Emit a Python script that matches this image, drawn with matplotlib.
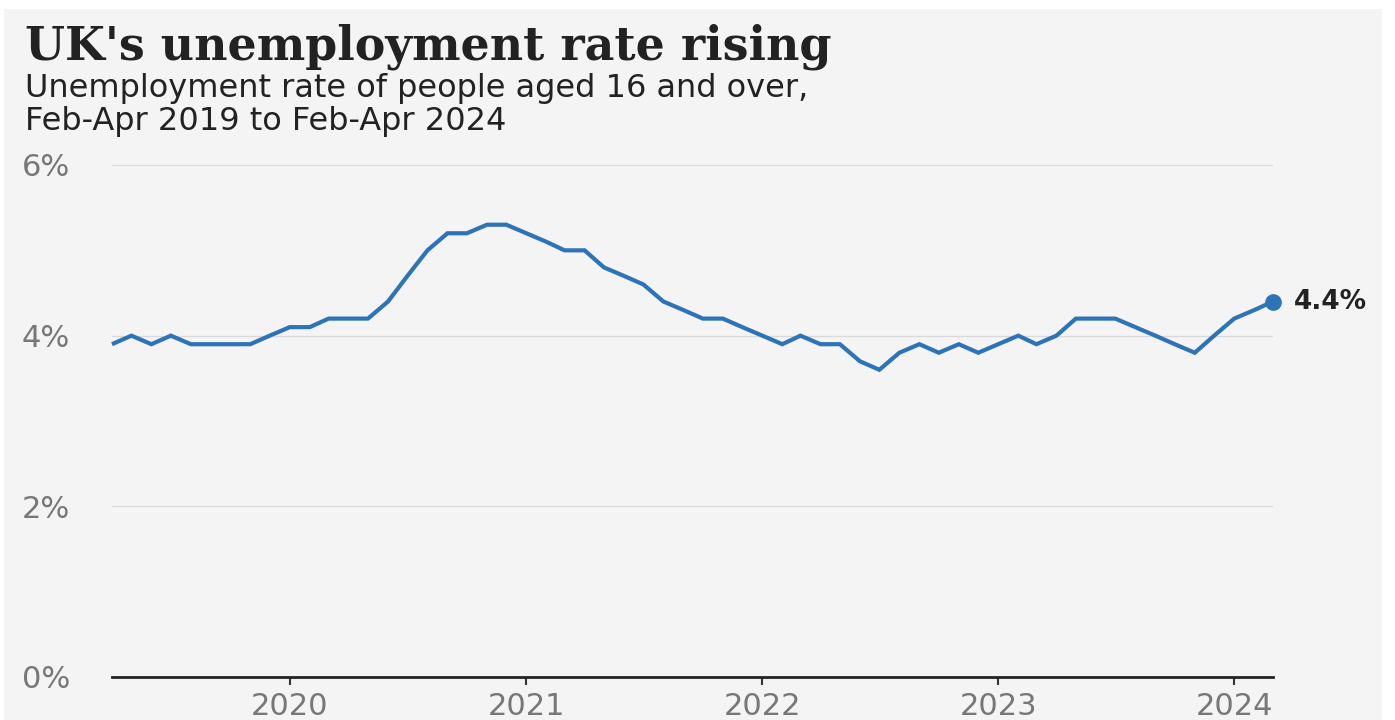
import matplotlib
matplotlib.use("Agg")
import matplotlib.pyplot as plt
from matplotlib.patches import Rectangle
import pandas as pd

# ---- data ----
start_month = "2019-04-01"   # plotted position of Feb-Apr 2019
rates = [3.9, 4.0, 3.9, 4.0, 3.9, 3.9, 3.9, 3.9, 4.0, 4.1,
         4.1, 4.2, 4.2, 4.2, 4.4, 4.7, 5.0, 5.2, 5.2, 5.3,
         5.3, 5.2, 5.1, 5.0, 5.0, 4.8, 4.7, 4.6, 4.4, 4.3,
         4.2, 4.2, 4.1, 4.0, 3.9, 4.0, 3.9, 3.9, 3.7, 3.6,
         3.8, 3.9, 3.8, 3.9, 3.8, 3.9, 4.0, 3.9, 4.0, 4.2,
         4.2, 4.2, 4.1, 4.0, 3.9, 3.8, 4.0, 4.2, 4.3, 4.4]
year_ticks = ["2020", "2021", "2022", "2023", "2024"]
y_ticks = [0, 2, 4, 6]
y_labels = ["0%", "2%", "4%", "6%"]
title = "UK's unemployment rate rising"
subtitle = "Unemployment rate of people aged 16 and over,\nFeb-Apr 2019 to Feb-Apr 2024"

dates = pd.date_range(start_month, periods=len(rates), freq="MS")

W, H = 1395, 720
fig = plt.figure(figsize=(W / 100, H / 100), dpi=100)
fig.patch.set_facecolor("white")
bg = "#f4f4f4"
fig.patches.append(Rectangle((4 / W, 0), (1382 - 4) / W, (H - 9) / H,
                             transform=fig.transFigure, facecolor=bg,
                             edgecolor="none", zorder=-10))

ax = fig.add_axes([112 / W, (H - 677) / H, (1273 - 112) / W, (677 - 165) / H])
ax.set_facecolor("none")

blue = "#2c74b7"
ax.plot(dates, rates, color=blue, lw=3.0, solid_joinstyle="miter",
        solid_capstyle="butt", zorder=3, clip_on=False)
ax.plot(dates[-1:], rates[-1:], "o", color=blue, ms=11, zorder=4, clip_on=False)
ax.annotate(f"{rates[-1]:.1f}%", (dates[-1], rates[-1]), xytext=(15, 0),
            textcoords="offset points", va="center", ha="left",
            fontsize=19, fontweight="bold", color="#222222", annotation_clip=False)

ax.set_ylim(0, 6)
ax.set_xlim(dates[0], dates[-1])
ax.set_yticks(y_ticks)
ax.set_yticklabels(y_labels, ha="left")
ax.tick_params(axis="y", length=0, pad=(112 - 22) * 0.72, labelsize=22,
               labelcolor="#777777")
ax.set_xticks([pd.Timestamp(f"{y}-01-01") for y in year_ticks])
ax.set_xticklabels(year_ticks)
ax.tick_params(axis="x", length=6, width=1.5, color="#333333", pad=5,
               labelsize=22, labelcolor="#777777")

for s in ["left", "right", "top"]:
    ax.spines[s].set_visible(False)
ax.spines["bottom"].set_color("#222222")
ax.spines["bottom"].set_linewidth(2.0)
ax.spines["bottom"].set_zorder(5)

ax.grid(axis="y", color="#d9d9d9", lw=0.9)
ax.grid(axis="x", visible=False)
ax.set_axisbelow(True)

fig.text(25 / W, 1 - 60 / H, title, fontsize=33, fontweight="bold",
         family="DejaVu Serif", color="#222222", va="baseline", ha="left")
fig.text(25 / W, 1 - 130 / H, subtitle, fontsize=23, color="#222222",
         va="baseline", ha="left", linespacing=1.07)

fig.savefig("out.png", dpi=100, facecolor=fig.get_facecolor())
